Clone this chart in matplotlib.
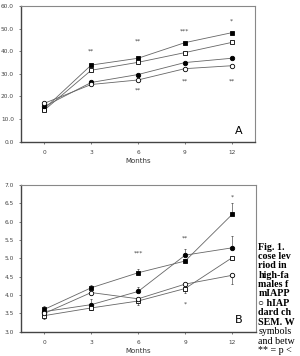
import numpy as np
import matplotlib.pyplot as plt

months = [0, 3, 6, 9, 12]

# panel A
a_fsq = [14.6, 33.9, 36.9, 43.8, 48.2]
a_osq = [14.0, 31.6, 35.1, 39.4, 43.9]
a_fci = [15.6, 26.2, 29.7, 35.0, 36.9]
a_oci = [17.0, 25.3, 27.3, 32.3, 33.6]
a_ticks = [0, 10, 20, 30, 40, 50, 60]
a_stars_top = [(3, 40.0, '**'), (6, 44.5, '**'), (9, 48.8, '***'), (12, 53.3, '*')]
a_stars_bot = [(6, 22.8, '**'), (9, 26.9, '**'), (12, 26.9, '**')]

# panel B (mmol/l) with one-sided SEM
b_fsq = [3.61, 4.20, 4.61, 4.93, 6.20]
b_fsq_err = [0.10, 0.08, 0.09, 0.05, 0.30]
b_fci = [3.55, 3.74, 4.10, 5.09, 5.29]
b_fci_err = [0.05, 0.15, 0.12, 0.16, 0.33]
b_osq = [3.44, 3.65, 3.84, 4.18, 5.02]
b_osq_err = [0.08, 0.05, 0.12, 0.13, 0.05]
b_oci = [3.50, 4.07, 3.90, 4.30, 4.54]
b_oci_err = [0.10, 0.06, 0.06, 0.05, 0.25]
b_ticks = [3.0, 3.5, 4.0, 4.5, 5.0, 5.5, 6.0, 6.5, 7.0]
b_stars_top = [(6, 5.15, '***'), (9, 5.56, '**'), (12, 6.68, '*')]
b_stars_bot = [(9, 3.75, '*')]

caption = [('Fig. 1.', 'bold'), ('cose lev', 'bold'), ('riod in', 'bold'),
           ('high-fa', 'bold'), ('males f', 'bold'), ('mIAPP', 'bold'),
           ('\u25cb hIAP', 'bold'), ('dard ch', 'bold'), ('SEM. W', 'bold'),
           ('symbols', 'normal'), ('and betw', 'normal'), ('** = p <', 'normal')]

fig = plt.figure(figsize=(3.0, 3.56), dpi=100)
axA = fig.add_axes([0.07, 0.602, 0.78, 0.381])
axB = fig.add_axes([0.069, 0.068, 0.783, 0.412])

line_kw = dict(color='#666666', lw=0.6, ms=3.2, mec='black', mew=0.6)


def style(ax, ticks):
    ax.set_xlim(-1.5, 13.5)
    ax.set_xticks(months)
    ax.set_yticks(ticks)
    ax.set_yticklabels(['%.1f' % t for t in ticks])
    ax.set_ylim(ticks[0], ticks[-1])
    ax.tick_params(labelsize=4.2, length=1.5, width=0.5, colors='#444444', pad=3.5)
    ax.tick_params(axis='x', pad=4.5)
    for s in ['left', 'bottom']:
        ax.spines[s].set_color('#444444')
        ax.spines[s].set_linewidth(1.0)
    for s in ['top', 'right']:
        ax.spines[s].set_color('#888888')
        ax.spines[s].set_linewidth(0.8)
    ax.set_xlabel('Months', fontsize=5, color='#333333', labelpad=2)


axA.plot(months, a_fsq, marker='s', mfc='black', **line_kw)
axA.plot(months, a_osq, marker='s', mfc='white', **line_kw)
axA.plot(months, a_fci, marker='o', mfc='black', **line_kw)
axA.plot(months, a_oci, marker='o', mfc='white', **line_kw)
for x, y, s in a_stars_top + a_stars_bot:
    axA.text(x, y, s, fontsize=4.5, ha='center', va='center', color='#444444')
axA.text(0.93, 0.08, 'A', transform=axA.transAxes, fontsize=8, ha='center', va='center')
style(axA, a_ticks)

zeros = [0] * 5
err_kw = dict(capsize=1, elinewidth=0.5, ecolor='#555555')
axB.errorbar(months, b_fsq, yerr=[zeros, b_fsq_err], marker='s', mfc='black', **err_kw, **line_kw)
axB.errorbar(months, b_fci, yerr=[zeros, b_fci_err], marker='o', mfc='black', **err_kw, **line_kw)
axB.errorbar(months, b_osq, yerr=[b_osq_err, zeros], marker='s', mfc='white', **err_kw, **line_kw)
axB.errorbar(months, b_oci, yerr=[b_oci_err, zeros], marker='o', mfc='white', **err_kw, **line_kw)
for x, y, s in b_stars_top + b_stars_bot:
    axB.text(x, y, s, fontsize=4.5, ha='center', va='center', color='#444444')
axB.text(0.93, 0.08, 'B', transform=axB.transAxes, fontsize=8, ha='center', va='center')
style(axB, b_ticks)
axB.set_ylabel('mmol/l', fontsize=5, color='#444444')
axB.yaxis.set_label_coords(-0.085, 0.54)

for i, (t, w) in enumerate(caption):
    fig.text(0.861, 1 - (247 + i * 9.4) / 356, t, fontsize=7.2, fontweight=w,
             family='Liberation Serif', va='center', ha='left')

fig.savefig('out.png', dpi=100)
